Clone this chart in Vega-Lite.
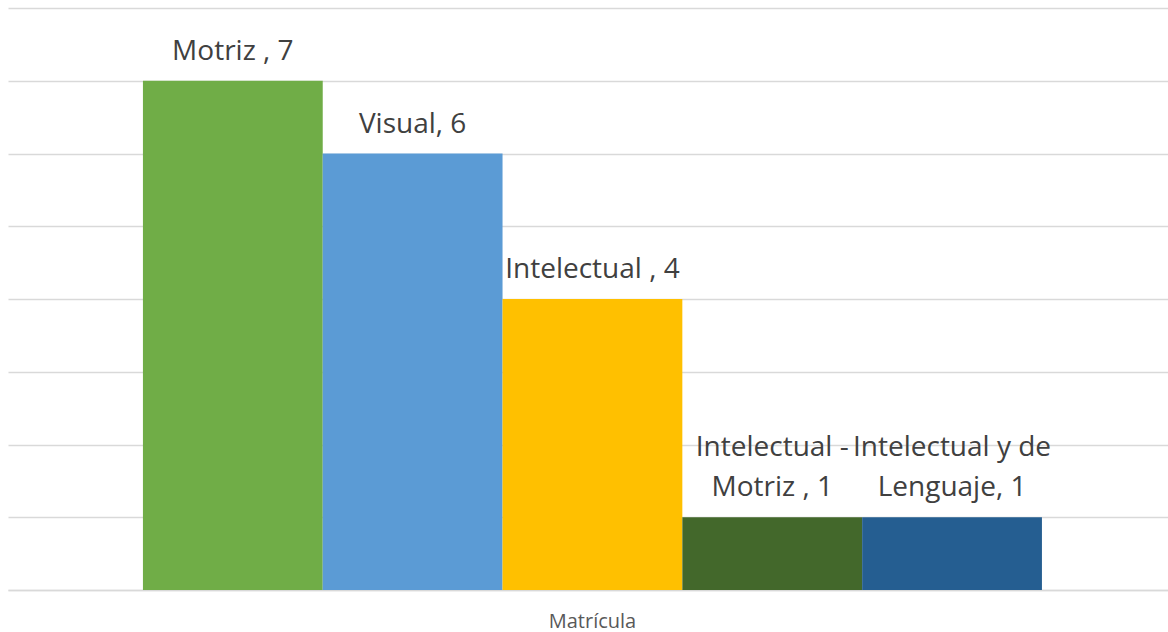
{
  "$schema": "https://vega.github.io/schema/vega-lite/v6.json",
  "width": 1160,
  "height": 582,
  "autosize": {"type": "none"},
  "padding": {"left": 8, "top": 8, "right": 0, "bottom": 42},
  "background": "white",
  "config": {"view": {"stroke": null}},
  "data": {
    "values": [
      {"cat": "Motriz", "value": 7, "l1": "", "l2": "Motriz , 7", "color": "#70AD47"},
      {"cat": "Visual", "value": 6, "l1": "", "l2": "Visual, 6", "color": "#5B9BD5"},
      {"cat": "Intelectual", "value": 4, "l1": "", "l2": "Intelectual , 4", "color": "#FFC000"},
      {"cat": "Intelectual - Motriz", "value": 1, "l1": "Intelectual -", "l2": "Motriz , 1", "color": "#43682B"},
      {"cat": "Intelectual y de Lenguaje", "value": 1, "l1": "Intelectual y de", "l2": "Lenguaje, 1", "color": "#255E91"}
    ]
  },
  "encoding": {
    "x": {
      "field": "cat",
      "type": "nominal",
      "sort": null,
      "scale": {"paddingInner": 0, "paddingOuter": 0.7258, "align": 0.517},
      "axis": {
        "labels": false,
        "ticks": false,
        "domain": true,
        "domainColor": "#D9D9D9",
        "domainWidth": 1.5,
        "title": "Matrícula",
        "titleFont": "Open Sans",
        "titleFontSize": 20,
        "titleFontWeight": "normal",
        "titleColor": "#595959",
        "titleBaseline": "alphabetic",
        "titlePadding": 37,
        "titleX": 584
      }
    },
    "y": {
      "field": "value",
      "type": "quantitative",
      "scale": {"domain": [0, 8], "nice": false},
      "axis": {
        "values": [0, 1, 2, 3, 4, 5, 6, 7, 8],
        "labels": false,
        "ticks": false,
        "domain": false,
        "grid": true,
        "gridColor": "#D9D9D9",
        "gridWidth": 1.5,
        "title": null
      }
    }
  },
  "layer": [
    {
      "mark": {"type": "bar"},
      "encoding": {
        "color": {"field": "color", "type": "nominal", "scale": null, "legend": null}
      }
    },
    {
      "mark": {
        "type": "text",
        "baseline": "alphabetic",
        "dy": -21,
        "font": "Open Sans",
        "fontSize": 28,
        "color": "#404040"
      },
      "encoding": {
        "text": {"field": "l2"}
      }
    },
    {
      "mark": {
        "type": "text",
        "baseline": "alphabetic",
        "dy": -61,
        "font": "Open Sans",
        "fontSize": 28,
        "color": "#404040"
      },
      "encoding": {
        "text": {"field": "l1"}
      }
    }
  ]
}
